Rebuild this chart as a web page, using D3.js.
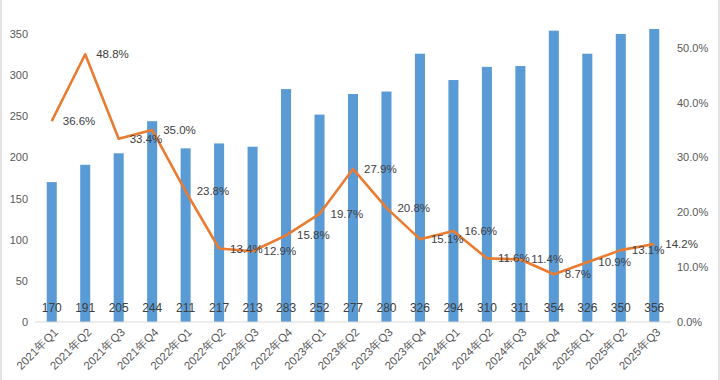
<!DOCTYPE html>
<html>
<head>
<meta charset="utf-8">
<script src="https://cdn.jsdelivr.net/npm/d3@7"></script>
<style>
  body { margin: 0; background: #fff; }
  svg { display: block; font-family: "Liberation Sans", Arial, sans-serif; }
</style>
</head>
<body>
<div id="chart"></div>
<script>
var quarters = ["2021年Q1","2021年Q2","2021年Q3","2021年Q4","2022年Q1","2022年Q2","2022年Q3","2022年Q4",
  "2023年Q1","2023年Q2","2023年Q3","2023年Q4","2024年Q1","2024年Q2","2024年Q3","2024年Q4",
  "2025年Q1","2025年Q2","2025年Q3"];
var revenue = [170,191,205,244,211,217,213,283,252,277,280,326,294,310,311,354,326,350,356];
var growth = [36.6,48.8,33.4,35.0,23.8,13.4,12.9,15.8,19.7,27.9,20.8,15.1,16.6,11.6,11.4,8.7,10.9,13.1,14.2];
var leftTicks = [0,50,100,150,200,250,300,350];
var rightTicks = [0,10,20,30,40,50];

var W = 720, H = 380;
var svg = d3.select("#chart").append("svg")
    .attr("width", W)
    .attr("height", H);

var x = d3.scaleBand().domain(quarters).range([35, 671]).paddingInner(0.7).paddingOuter(0.35);
var y = d3.scaleLinear().domain([0, 400]).range([322, -7.2]);
var y2 = d3.scaleLinear().domain([0, 60]).range([322, -7.2]);

// frame edges of the screenshot
svg.append("line").attr("x1", 1).attr("x2", 1).attr("y1", 0).attr("y2", H)
    .attr("stroke", "#e4e4e4").attr("stroke-width", 2);
svg.append("line").attr("x1", 719).attr("x2", 719).attr("y1", 0).attr("y2", H)
    .attr("stroke", "#e4e4e4").attr("stroke-width", 2);

// bars
svg.append("g").selectAll("rect")
    .data(revenue)
    .enter().append("rect")
    .attr("x", function(d, i) { return x(quarters[i]); })
    .attr("width", x.bandwidth())
    .attr("y", function(d) { return y(d); })
    .attr("height", function(d) { return y(0) - y(d); })
    .attr("fill", "#5B9BD5");

// baseline
svg.append("line")
    .attr("x1", 35).attr("x2", 671)
    .attr("y1", y(0)).attr("y2", y(0))
    .attr("stroke", "#d9d9d9").attr("stroke-width", 1);

// left axis
var gl = svg.append("g")
    .attr("transform", "translate(28,0)")
    .call(d3.axisLeft(y).tickValues(leftTicks).tickSize(0).tickPadding(0));
gl.select(".domain").remove();
gl.selectAll("text").attr("fill", "#595959").style("font-size", "11px")
    .style("font-family", "Liberation Sans, Arial, sans-serif");

// right axis
var gr = svg.append("g")
    .attr("transform", "translate(677,0)")
    .call(d3.axisRight(y2).tickValues(rightTicks).tickSize(0).tickPadding(0)
      .tickFormat(function(d) { return d.toFixed(1) + "%"; }));
gr.select(".domain").remove();
gr.selectAll("text").attr("fill", "#595959").style("font-size", "11px")
    .style("font-family", "Liberation Sans, Arial, sans-serif");

// x labels
var gx = svg.append("g")
    .attr("transform", "translate(0," + y(0) + ")")
    .call(d3.axisBottom(x).tickSize(0).tickPadding(0));
gx.select(".domain").remove();
gx.selectAll("text")
    .attr("fill", "#595959")
    .style("font-size", "11.5px")
    .style("font-family", "Liberation Sans, Arial, sans-serif")
    .attr("text-anchor", "end")
    .attr("dy", null)
    .attr("y", 0)
    .attr("transform", "translate(7,11) rotate(-45)");

// growth line
var line = d3.line()
    .x(function(d, i) { return x(quarters[i]) + x.bandwidth() / 2; })
    .y(function(d) { return y2(d); });
svg.append("path")
    .datum(growth)
    .attr("fill", "none")
    .attr("stroke", "#E97C30")
    .attr("stroke-width", 2.6)
    .attr("stroke-linejoin", "round")
    .attr("d", line);

// bar value labels
svg.append("g").selectAll("text")
    .data(revenue)
    .enter().append("text")
    .attr("x", function(d, i) { return x(quarters[i]) + x.bandwidth() / 2; })
    .attr("y", 312)
    .attr("text-anchor", "middle")
    .attr("fill", "#404040")
    .style("font-size", "12px")
    .text(function(d) { return d; });

// growth labels
svg.append("g").selectAll("text")
    .data(growth)
    .enter().append("text")
    .attr("x", function(d, i) { return x(quarters[i]) + x.bandwidth() / 2 + 11; })
    .attr("y", function(d) { return y2(d); })
    .attr("dy", "0.35em")
    .attr("fill", "#404040")
    .style("font-size", "11.5px")
    .text(function(d) { return d.toFixed(1) + "%"; });
</script>
</body>
</html>
